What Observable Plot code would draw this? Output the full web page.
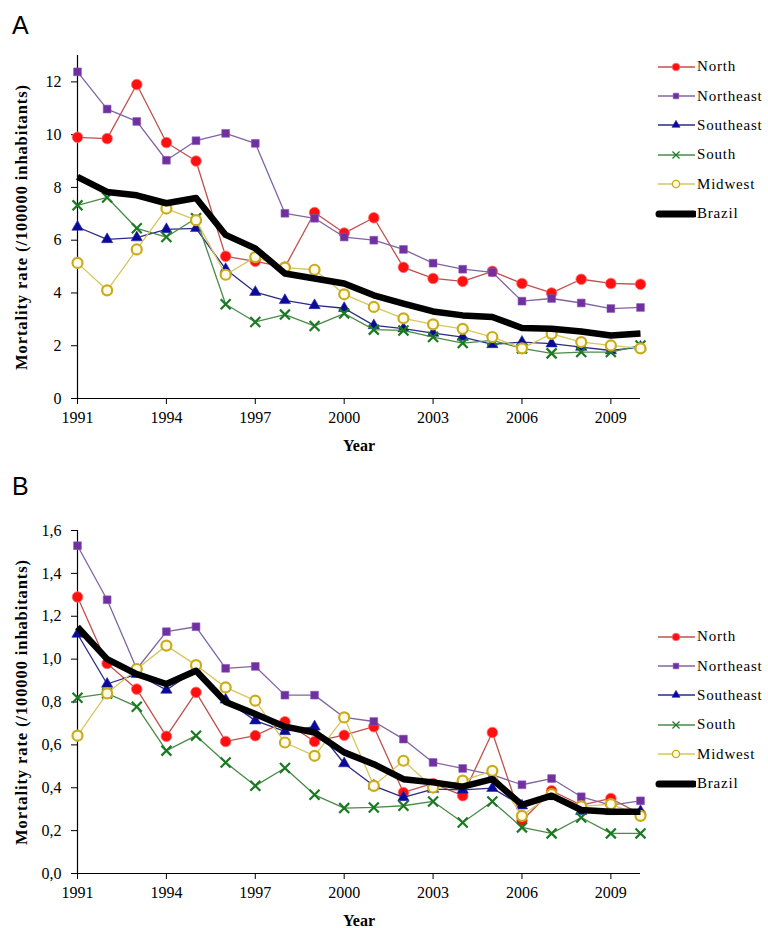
<!DOCTYPE html>
<html><head><meta charset="utf-8">
<script src="https://cdn.jsdelivr.net/npm/d3@7"></script>
<script src="https://cdn.jsdelivr.net/npm/@observablehq/plot@0.6"></script>
<style>
body{margin:0;background:#fff;}
#wrap{position:relative;width:768px;height:928px;overflow:hidden;background:#fff;}
.panel{position:absolute;left:0;}
.tag{position:absolute;left:12px;font-family:"Liberation Sans",Arial,sans-serif;font-size:25px;line-height:1;}
.legend{position:absolute;left:655px;font-family:"Times New Roman",Tinos,"Liberation Serif","DejaVu Serif",serif;font-size:15px;letter-spacing:0.8px;color:#000;}
.legend .row{display:flex;align-items:center;height:29.4px;}
.legend svg{display:block;margin-right:1px;}
svg [aria-label="y-axis label"] text, svg [aria-label="x-axis label"] text{font-weight:bold;}
svg [aria-label="y-axis label"] text{font-size:16.5px;letter-spacing:0.9px;}
</style>
</head><body>
<div id="wrap">
  <div class="tag" style="top:13px">A</div>
  <div class="tag" style="top:474px">B</div>
</div>
<script>
const years = [1991,1992,1993,1994,1995,1996,1997,1998,1999,2000,2001,2002,2003,2004,2005,2006,2007,2008,2009,2010];
const xTicks = [1991,1994,1997,2000,2003,2006,2009];
const yTicksA = [0,2,4,6,8,10,12];
const yTicksB = [0,0.2,0.4,0.6,0.8,1.0,1.2,1.4,1.6];
const regionNames = ["North","Northeast","Southeast","South","Midwest","Brazil"];

// Panel A
const northA     = [9.9, 9.85, 11.9, 9.7, 9.0, 5.39, 5.2, 4.98, 7.05, 6.27, 6.85, 4.97, 4.55, 4.44, 4.82, 4.36, 4.0, 4.52, 4.36, 4.33];
const northeastA = [12.38, 10.97, 10.5, 9.03, 9.77, 10.05, 9.67, 7.02, 6.83, 6.12, 6.0, 5.65, 5.13, 4.9, 4.78, 3.69, 3.79, 3.62, 3.41, 3.45];
const southeastA = [6.5, 6.03, 6.1, 6.41, 6.45, 4.9, 4.03, 3.72, 3.53, 3.42, 2.77, 2.65, 2.48, 2.33, 2.05, 2.14, 2.08, 1.95, 1.82, 1.95];
const southA     = [7.32, 7.62, 6.45, 6.12, 6.83, 3.57, 2.9, 3.18, 2.75, 3.22, 2.61, 2.58, 2.33, 2.1, 2.2, 1.9, 1.71, 1.76, 1.76, 2.01];
const midwestA   = [5.14, 4.1, 5.65, 7.2, 6.76, 4.69, 5.36, 4.96, 4.88, 3.95, 3.47, 3.04, 2.81, 2.64, 2.33, 1.9, 2.45, 2.14, 2.01, 1.9];
const brazilA    = [8.4, 7.83, 7.7, 7.4, 7.6, 6.2, 5.69, 4.74, 4.55, 4.36, 3.91, 3.6, 3.3, 3.15, 3.09, 2.67, 2.64, 2.54, 2.39, 2.46];

// Panel B
const northB     = [1.29, 0.98, 0.86, 0.64, 0.845, 0.616, 0.643, 0.708, 0.616, 0.645, 0.685, 0.378, 0.42, 0.363, 0.658, 0.246, 0.386, 0.319, 0.35, 0.277];
const northeastB = [1.529, 1.277, 0.954, 1.128, 1.151, 0.957, 0.966, 0.832, 0.832, 0.728, 0.709, 0.627, 0.518, 0.49, 0.46, 0.414, 0.443, 0.358, 0.319, 0.339];
const southeastB = [1.117, 0.884, 0.93, 0.856, 0.95, 0.81, 0.713, 0.663, 0.685, 0.513, 0.409, 0.355, 0.394, 0.39, 0.398, 0.316, 0.36, 0.29, 0.29, 0.29];
const southB     = [0.82, 0.84, 0.778, 0.573, 0.643, 0.518, 0.409, 0.492, 0.367, 0.305, 0.308, 0.316, 0.336, 0.238, 0.336, 0.215, 0.187, 0.261, 0.187, 0.187];
const midwestB   = [0.643, 0.84, 0.954, 1.063, 0.972, 0.868, 0.806, 0.611, 0.549, 0.728, 0.409, 0.526, 0.401, 0.433, 0.479, 0.269, 0.37, 0.313, 0.324, 0.269];
const brazilB    = [1.15, 1.0, 0.93, 0.884, 0.946, 0.80, 0.744, 0.685, 0.658, 0.565, 0.51, 0.44, 0.425, 0.405, 0.44, 0.32, 0.363, 0.296, 0.288, 0.288];

const styles = {
  North:     {line:"#c0504d", lw:1.3, symbol:"circle",   fill:"#ff1010", stroke:"#ff7070", sw:0.8, r:5.3},
  Northeast: {line:"#8064a2", lw:1.3, symbol:"square",   fill:"#7030a0", stroke:"#8a5ab8", sw:0.6, r:4.4},
  Southeast: {line:"#2a2a86", lw:1.3, symbol:"triangle", fill:"#0a0a96", stroke:"#2a2ab0", sw:0.6, r:4.2},
  South:     {line:"#4a8a4a", lw:1.3, symbol:"times",    fill:"none",    stroke:"#1a7a22", sw:2.2, r:4.6},
  Midwest:   {line:"#d6c65c", lw:1.3, symbol:"circle",   fill:"#fffbe8", stroke:"#c9ac1c", sw:2.2, r:5.0},
  Brazil:    {line:"#000000", lw:6.5}
};

const serif = "'Times New Roman', Tinos, 'Liberation Serif', 'DejaVu Serif', serif";

function buildRows(arrs){
  const rows = [];
  regionNames.forEach((name, k) => {
    arrs[k].forEach((v, i) => rows.push({region:name, year:years[i], value:v}));
  });
  return rows;
}

function panel(arrs, opts){
  const rows = buildRows(arrs);
  const marks = [Plot.ruleY([0], {stroke:"#000", strokeWidth:1.2}), Plot.ruleX([1991], {stroke:"#000", strokeWidth:1.2})];
  for (const name of regionNames){
    const s = styles[name];
    const d = rows.filter(r => r.region === name);
    marks.push(Plot.line(d, {x:"year", y:"value", stroke:s.line, strokeWidth:s.lw, strokeLinejoin:"round", strokeLinecap: name==="Brazil" ? "butt" : "round"}));
    if (s.symbol){
      marks.push(Plot.dot(d, {x:"year", y:"value", symbol:s.symbol, r:s.r, fill:s.fill, stroke:s.stroke, strokeWidth:s.sw}));
    }
  }
  return Plot.plot({
    width:768, height:opts.height,
    marginLeft:77, marginRight:128, marginTop:opts.mt, marginBottom:opts.mb,
    style:{fontFamily:serif, fontSize:"16px", color:"#000", background:"transparent", overflow:"visible"},
    x:{domain:[1991,2010], ticks:xTicks, tickFormat:d=>String(d), tickSize:6, tickPadding:7,
       label:"Year", labelAnchor:"center", labelArrow:"none", labelOffset:opts.xlo},
    y:{domain:opts.ydomain, ticks:opts.yticks, tickFormat:opts.fmt, tickSize:6, tickPadding:10,
       label:"Mortality rate (/100000 inhabitants)", labelAnchor:"center", labelArrow:"none", labelOffset:62},
    marks
  });
}

const wrap = document.getElementById("wrap");
const pA = panel([northA, northeastA, southeastA, southA, midwestA, brazilA],
  {height:460, mt:55, mb:62, ydomain:[0,13], yticks:yTicksA, fmt:d=>String(d), xlo:52});
pA.classList.add("panel"); pA.style.top = "0px";
wrap.appendChild(pA);

const pB = panel([northB, northeastB, southeastB, southB, midwestB, brazilB],
  {height:468, mt:70, mb:55, ydomain:[0,1.6], yticks:yTicksB, fmt:d=>d.toFixed(1).replace(".", ","), xlo:52});
pB.classList.add("panel"); pB.style.top = "460px";
wrap.appendChild(pB);

// legends
function legendSymbol(name){
  const s = styles[name];
  const ns = "http://www.w3.org/2000/svg";
  const svg = document.createElementNS(ns, "svg");
  svg.setAttribute("width", 41); svg.setAttribute("height", 14);
  const line = document.createElementNS(ns, "line");
  if (name === "Brazil"){
    line.setAttribute("x1", 4); line.setAttribute("x2", 39);
    line.setAttribute("stroke-width", 7); line.setAttribute("stroke-linecap","round");
  } else {
    line.setAttribute("x1", 3); line.setAttribute("x2", 40);
    line.setAttribute("stroke-width", 1.4);
  }
  line.setAttribute("y1", 7); line.setAttribute("y2", 7);
  line.setAttribute("stroke", s.line);
  svg.appendChild(line);
  if (s.symbol){
    const p = document.createElementNS(ns, "path");
    const symMap = {circle:d3.symbolCircle, square:d3.symbolSquare, triangle:d3.symbolTriangle, times:d3.symbolTimes};
    const rr = s.r * 0.72;
    p.setAttribute("d", d3.symbol(symMap[s.symbol], Math.PI*rr*rr)());
    p.setAttribute("transform", "translate(21,7)");
    p.setAttribute("fill", s.symbol === "times" ? "none" : s.fill);
    p.setAttribute("stroke", s.stroke);
    p.setAttribute("stroke-width", s.symbol==="times" ? 1.2 : (s.symbol==="circle" && s.fill!=="#ff1010" ? 1.4 : s.sw));
    svg.appendChild(p);
  }
  return svg;
}
function legend(top){
  const div = document.createElement("div");
  div.className = "legend"; div.style.top = top + "px";
  for (const name of regionNames){
    const row = document.createElement("div"); row.className = "row";
    row.appendChild(legendSymbol(name));
    const t = document.createElement("span"); t.textContent = name;
    row.appendChild(t);
    div.appendChild(row);
  }
  wrap.appendChild(div);
}
legend(52);
legend(622);
</script>
</body></html>
